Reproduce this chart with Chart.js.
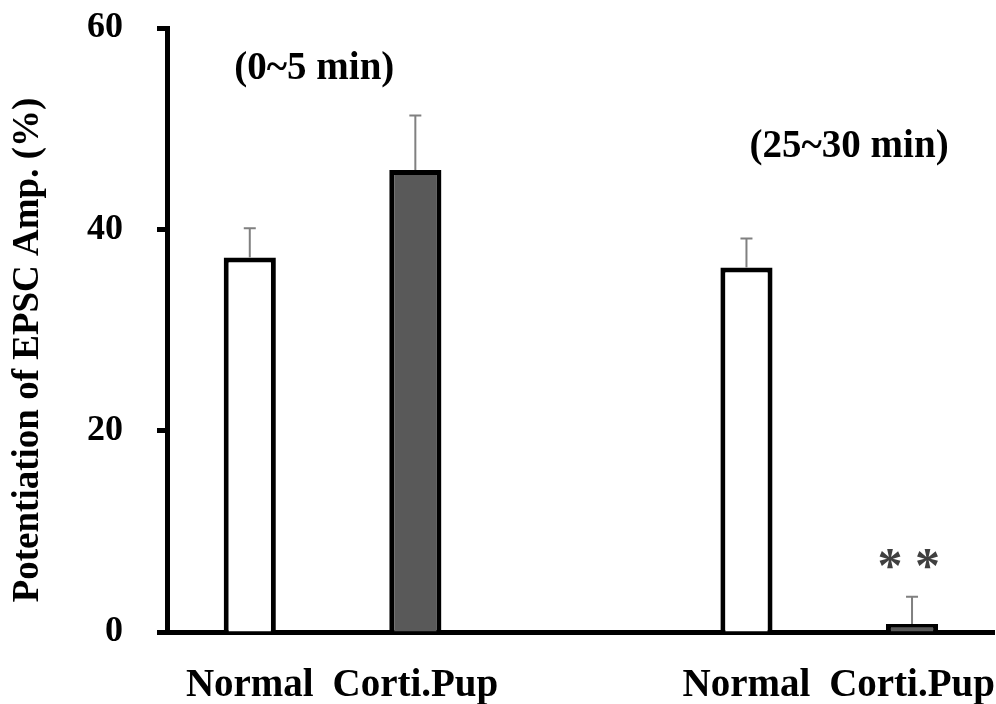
<!DOCTYPE html>
<html lang="en">
<head>
    <meta charset="UTF-8">
    <title>EPSC Potentiation</title>
    <script src="https://cdn.jsdelivr.net/npm/chart.js@4.4.1/dist/chart.umd.min.js"></script>
    <style>
        html, body { margin: 0; padding: 0; background: #fff; }
        #wrap { width: 996px; height: 704px; }
    </style>
</head>
<body>
    <div id="wrap"><canvas id="barChart"></canvas></div>

    <script>
        // Data
        const categories = ['Normal', 'Corti.Pup', '', 'Normal', 'Corti.Pup'];
        const values = [37.2, 45.9, null, 36.2, 0.8];
        const errors = [2.9, 5.4, null, 2.9, 2.7];
        const fills = ['#ffffff', '#595959', '#ffffff', '#ffffff', '#595959'];
        const yTicks = [0, 20, 40, 60];

        const serif = "'Liberation Serif', 'Times New Roman', serif";

        // error bars, y title and the notes
        const extras = {
            id: 'extras',
            afterDatasetsDraw(chart) {
                const c = chart.ctx;
                const x = chart.scales.x;
                const y = chart.scales.y;
                const meta = chart.getDatasetMeta(0);
                c.save();
                c.strokeStyle = '#808080';
                c.lineWidth = 2;
                values.forEach((v, i) => {
                    if (v === null) return;
                    const px = meta.data[i].x;
                    const top = y.getPixelForValue(v + errors[i]);
                    const base = y.getPixelForValue(v);
                    c.beginPath();
                    c.moveTo(px, base);
                    c.lineTo(px, top);
                    c.moveTo(px - 6, top);
                    c.lineTo(px + 6, top);
                    c.stroke();
                });

                c.fillStyle = '#000';
                c.font = 'bold 39px ' + serif;
                c.textAlign = 'center';
                c.textBaseline = 'middle';
                c.fillText('(0~5 min)', x.getPixelForValue(0.39), y.getPixelForValue(55.9));
                c.fillText('(25~30 min)', x.getPixelForValue(3.62), y.getPixelForValue(48.2));

                c.fillStyle = '#404040';
                c.font = 'bold 50px ' + serif;
                c.fillText('* *', x.getPixelForValue(3.98), y.getPixelForValue(6.3));

                // y axis title
                c.fillStyle = '#000';
                c.font = 'bold 37px ' + serif;
                c.translate(28, 350);
                c.rotate(-Math.PI / 2);
                c.fillText('Potentiation of EPSC Amp. (%)', 0, 0);
                c.restore();
            }
        };

        const ctx = document.getElementById('barChart').getContext('2d');

        new Chart(ctx, {
            type: 'bar',
            data: {
                labels: categories,
                datasets: [{
                    data: values,
                    backgroundColor: fills,
                    borderColor: '#000',
                    borderWidth: 5,
                    barPercentage: 0.315,
                    categoryPercentage: 1.0
                }]
            },
            options: {
                responsive: true,
                maintainAspectRatio: false,
                animation: false,
                layout: { padding: { top: 28, right: 1, left: 0, bottom: 0 } },
                plugins: {
                    legend: { display: false },
                    tooltip: { enabled: false }
                },
                scales: {
                    x: {
                        grid: {
                            drawOnChartArea: false,
                            drawTicks: true,
                            tickLength: 30,
                            tickColor: 'rgba(0,0,0,0)'
                        },
                        border: { color: '#000', width: 5 },
                        ticks: {
                            color: '#000',
                            padding: 1,
                            maxRotation: 0,
                            autoSkip: false,
                            font: { family: serif, size: 39, weight: 'bold' }
                        },
                        afterFit(scale) { scale.height = 72; }
                    },
                    y: {
                        min: 0,
                        max: 60,
                        afterBuildTicks(scale) {
                            scale.ticks = yTicks.map(v => ({ value: v }));
                        },
                        grid: {
                            drawOnChartArea: false,
                            drawTicks: true,
                            tickLength: 10,
                            tickWidth: 5,
                            tickColor: '#000'
                        },
                        border: { color: '#000', width: 5 },
                        ticks: {
                            color: '#000',
                            padding: 34,
                            font: { family: serif, size: 36, weight: 'bold' }
                        },
                        afterFit(scale) {
                            scale.width = 167;
                            scale.paddingTop = 0;
                            scale.paddingBottom = 0;
                        }
                    }
                }
            },
            plugins: [extras]
        });
    </script>
</body>
</html>
